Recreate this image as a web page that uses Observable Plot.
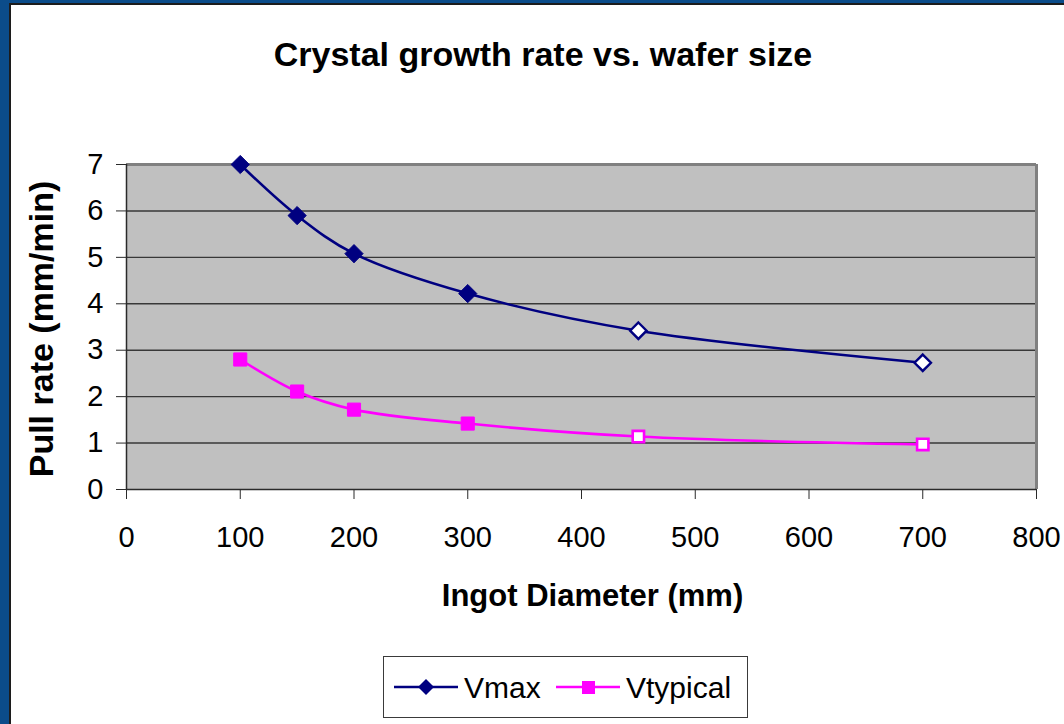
<!DOCTYPE html>
<html>
<head>
<meta charset="utf-8">
<script src="https://cdn.jsdelivr.net/npm/d3@7"></script>
<script src="https://cdn.jsdelivr.net/npm/@observablehq/plot@0.6"></script>
<style>
  html, body { margin: 0; padding: 0; }
  body {
    width: 1064px; height: 724px; overflow: hidden; position: relative;
    background: #0b4c8a; font-family: "Liberation Sans", Arial, sans-serif;
  }
  #panel {
    position: absolute; left: 9px; top: 3px; right: 0; bottom: 0;
    background: #ffffff; border-left: 2px solid #1c1c1c; border-top: 2px solid #1c1c1c;
  }
  #title {
    position: absolute; left: 0; width: 1086px; top: 37px; text-align: center;
    font-size: 34px; line-height: 34px; font-weight: bold; color: #000;
  }
  #chart { position: absolute; left: 0; top: 100px; }
  #legend {
    position: absolute; left: 383px; top: 656px; width: 363px; height: 60px;
    background: #fff; border: 1.5px solid #3a3a3a; box-sizing: content-box;
  }
  #legend .item { position: absolute; top: 0; height: 60px; display: flex; align-items: center; }
  #legend .item span { font-size: 30px; color: #000; margin-left: 6px; position: relative; top: 1px; }
  #legend svg { display: block; }
</style>
</head>
<body>
<div id="panel"></div>
<div id="title">Crystal growth rate vs. wafer size</div>
<div id="chart"></div>
<div id="legend"></div>
<script>
// Ingot diameters (mm) and pull rates (mm/min)
const diameters = [100, 150, 200, 300, 450, 700];
const vmax = [7.0, 5.9, 5.08, 4.22, 3.42, 2.73];
const vtypical = [2.8, 2.11, 1.72, 1.42, 1.14, 0.97];
// Larger diameters are projections, drawn with hollow markers
const projected = [false, false, false, false, true, true];

const xTicks = [0, 100, 200, 300, 400, 500, 600, 700, 800];
const yTicks = [0, 1, 2, 3, 4, 5, 6, 7];
const gridLevels = [1, 2, 3, 4, 5, 6];

const seriesNames = ["Vmax", "Vtypical"];
const seriesColors = ["#000080", "#ff00ff"];

const rows = diameters.flatMap((d, i) => [
  {series: "Vmax", diameter: d, rate: vmax[i], projected: projected[i]},
  {series: "Vtypical", diameter: d, rate: vtypical[i], projected: projected[i]}
]);
const maxRows = rows.filter(r => r.series === "Vmax");
const typRows = rows.filter(r => r.series === "Vtypical");
const solid = rs => rs.filter(r => !r.projected);
const hollow = rs => rs.filter(r => r.projected);

const chart = Plot.plot({
  width: 1064,
  height: 540,
  marginLeft: 126,
  marginRight: 28,
  marginTop: 64,
  marginBottom: 151,
  style: {fontFamily: "'Liberation Sans', Arial, sans-serif", background: "transparent", overflow: "visible"},
  x: {domain: [0, 800]},
  y: {domain: [0, 7]},
  marks: [
    Plot.frame({fill: "#c0c0c0", stroke: null}),
    Plot.ruleY(gridLevels, {stroke: "#383838", strokeWidth: 1.4}),
    Plot.ruleY([7], {stroke: "#808080", strokeWidth: 3}),
    Plot.ruleX([800], {stroke: "#808080", strokeWidth: 3}),
    Plot.ruleX([0], {stroke: "#2a2a2a", strokeWidth: 1.5}),
    Plot.ruleY([0], {stroke: "#2a2a2a", strokeWidth: 1.5}),
    Plot.axisX({ticks: xTicks, tickSize: 10, tickPadding: 27, fontSize: 29, label: null, stroke: "#2a2a2a", color: "#000", tickFormat: d => String(d)}),
    Plot.axisY({ticks: yTicks, tickSize: 10, tickPadding: 13, fontSize: 29, label: null, stroke: "#2a2a2a", color: "#000", tickFormat: d => String(d)}),
    Plot.line(maxRows, {x: "diameter", y: "rate", stroke: seriesColors[0], strokeWidth: 2.6, curve: "catmull-rom"}),
    Plot.line(typRows, {x: "diameter", y: "rate", stroke: seriesColors[1], strokeWidth: 2.6, curve: "catmull-rom"}),
    Plot.dot(solid(maxRows), {x: "diameter", y: "rate", symbol: "diamond2", r: 8.2, fill: seriesColors[0], stroke: seriesColors[0], strokeWidth: 1}),
    Plot.dot(hollow(maxRows), {x: "diameter", y: "rate", symbol: "diamond2", r: 7.4, fill: "#ffffff", stroke: seriesColors[0], strokeWidth: 2.4}),
    Plot.dot(solid(typRows), {x: "diameter", y: "rate", symbol: "square", r: 7.4, fill: seriesColors[1], stroke: seriesColors[1], strokeWidth: 1}),
    Plot.dot(hollow(typRows), {x: "diameter", y: "rate", symbol: "square", r: 6.4, fill: "#ffffff", stroke: seriesColors[1], strokeWidth: 2.6}),
    Plot.text(["Ingot Diameter (mm)"], {frameAnchor: "bottom", lineAnchor: "bottom", textAnchor: "middle", dx: 11, dy: 116,
      fontSize: 31, fontWeight: "bold", fill: "#000"}),
    Plot.text(["Pull rate (mm/min)"], {frameAnchor: "left", lineAnchor: "bottom", textAnchor: "middle", rotate: -90, dx: -74, dy: 2,
      fontSize: 34, fontWeight: "bold", fill: "#000", style: "letter-spacing:2px"})
  ]
});
document.getElementById("chart").appendChild(chart);

// Legend: line + marker swatch for each series
const legend = d3.select("#legend");
const itemLeft = [10, 172];
seriesNames.forEach((name, i) => {
  const item = legend.append("div").attr("class", "item").style("left", itemLeft[i] + "px");
  const svg = item.append("svg").attr("width", 64).attr("height", 20);
  svg.append("line").attr("x1", 0).attr("x2", 64).attr("y1", 10).attr("y2", 10)
    .attr("stroke", seriesColors[i]).attr("stroke-width", 2.6);
  if (i === 0) {
    svg.append("path").attr("d", "M32,2L40,10L32,18L24,10Z").attr("fill", seriesColors[i]);
  } else {
    svg.append("rect").attr("x", 26).attr("y", 4).attr("width", 13).attr("height", 13).attr("fill", seriesColors[i]);
  }
  item.append("span").text(name);
});
</script>
</body>
</html>
